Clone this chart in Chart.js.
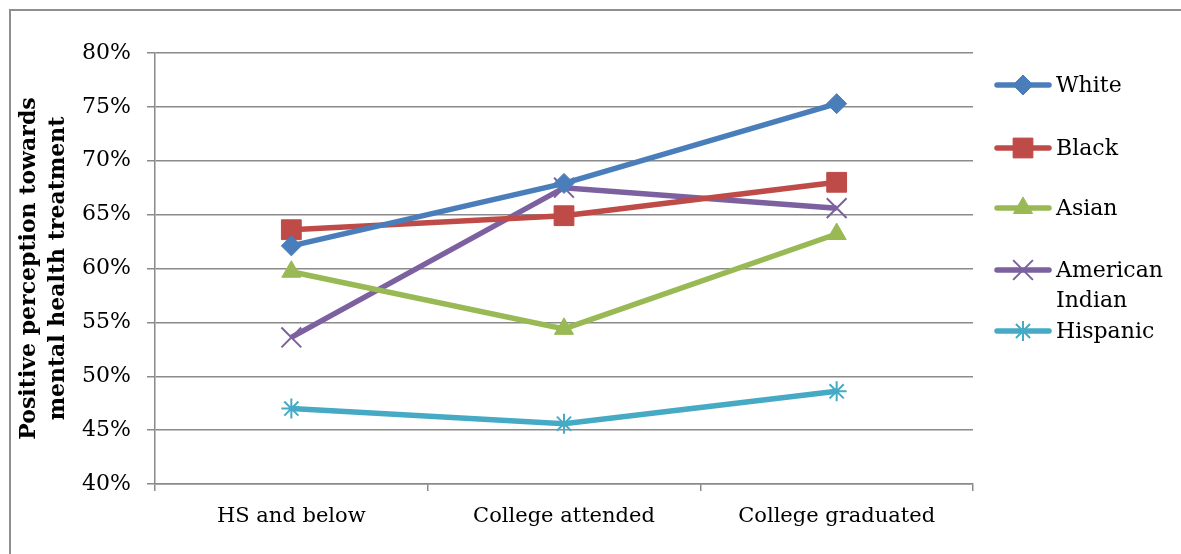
<!DOCTYPE html>
<html>
<head>
<meta charset="utf-8">
<script src="https://cdn.jsdelivr.net/npm/chart.js@4.4.1/dist/chart.umd.min.js"></script>
<style>
  html, body { margin: 0; padding: 0; background: #fff; }
  #wrap { position: relative; width: 1181px; height: 554px; overflow: hidden; }
  #frame { position: absolute; left: 9px; top: 9px; width: 1400px; height: 800px; border: 2px solid #8f8f8f; }
  canvas { position: absolute; left: 0; top: 0; }
</style>
</head>
<body>
<div id="wrap">
  <div id="frame"></div>
  <canvas id="chart" width="1181" height="554"></canvas>
</div>
<script>
/* ---------- Data ---------- */
const categories = ["HS and below", "College attended", "College graduated"];
const seriesNames = ["White", "Black", "Asian", "American Indian", "Hispanic"];
const whiteVals    = [62.1, 67.9, 75.3];
const blackVals    = [63.6, 64.9, 68.0];
const asianVals    = [59.7, 54.4, 63.2];
const amIndianVals = [53.6, 67.5, 65.6];
const hispanicVals = [47.0, 45.6, 48.6];
const yMin = 40, yMax = 80, yStep = 5;

/* ---------- Styles ---------- */
const FONT = "'DejaVu Serif', serif";
const lineColors   = ["#4A7EBB", "#BE4B48", "#98B954", "#7D60A0", "#46AAC5"];
const markerStyles = ["rectRot", "rect", "triangle", "crossRot", "star"];
const markerRadius = [10, 14, 11, 14, 10];
const markerBorder = [1, 1, 1, 2, 2];

const seriesValues = [whiteVals, blackVals, asianVals, amIndianVals, hispanicVals];

const datasets = seriesNames.map((name, i) => ({
  label: name,
  data: seriesValues[i],
  borderColor: lineColors[i],
  backgroundColor: lineColors[i],
  borderWidth: 5.5,
  pointStyle: markerStyles[i],
  pointRadius: markerRadius[i],
  pointBorderWidth: markerBorder[i],
  pointBackgroundColor: lineColors[i],
  pointBorderColor: lineColors[i],
  tension: 0
}));

/* ---------- Legend (line + marker, like the office chart) ---------- */
const legendRows = [85, 148, 208, 270, 331];
const sideLegend = {
  id: "sideLegend",
  afterDraw(c) {
    const g = c.ctx;
    g.save();
    g.font = "22px " + FONT;
    g.textBaseline = "middle";
    g.textAlign = "left";
    seriesNames.forEach((name, i) => {
      const y = legendRows[i];
      g.strokeStyle = lineColors[i];
      g.lineWidth = 5.5;
      g.lineCap = "round";
      g.beginPath();
      g.moveTo(997, y);
      g.lineTo(1049, y);
      g.stroke();
      g.fillStyle = lineColors[i];
      g.lineWidth = markerBorder[i];
      g.lineCap = "butt";
      Chart.helpers.drawPoint(g, {
        pointStyle: markerStyles[i],
        radius: markerRadius[i],
        rotation: 0,
        borderWidth: markerBorder[i]
      }, 1023, y);
      g.fillStyle = "#000";
      const parts = name.split(" ");
      parts.forEach((p, k) => g.fillText(p, 1056, y + 1 + k * 30));
    });
    g.restore();
  }
};

/* ---------- Chart ---------- */
const ctx = document.getElementById("chart").getContext("2d");
new Chart(ctx, {
  type: "line",
  data: { labels: categories, datasets },
  options: {
    responsive: false,
    animation: false,
    layout: { padding: { top: 53, right: 208, bottom: 0, left: 0 } },
    plugins: { legend: { display: false }, tooltip: { enabled: false } },
    scales: {
      x: {
        offset: true,
        afterFit(s) { s.height = 70; },
        grid: { offset: true, drawOnChartArea: false, drawTicks: true, tickLength: 7, color: "#8a8a8a", lineWidth: 1.5 },
        border: { display: true, color: "#8a8a8a", width: 1.5 },
        ticks: { color: "#000", padding: 13, font: { family: FONT, size: 21 } }
      },
      y: {
        min: yMin,
        max: yMax,
        afterFit(s) { s.width = 155; },
        grid: { color: "#8a8a8a", lineWidth: 1.5, tickLength: 8 },
        border: { display: true, color: "#8a8a8a", width: 1.5 },
        ticks: {
          stepSize: yStep,
          color: "#000",
          padding: 16,
          font: { family: FONT, size: 22 },
          callback: v => v + "%"
        },
        title: {
          display: true,
          text: ["Positive perception towards", "mental health treatment"],
          color: "#000",
          font: { family: FONT, size: 22, weight: "bold", lineHeight: 1.3 },
          padding: { top: 15, bottom: 0 }
        }
      }
    }
  },
  plugins: [sideLegend]
});
</script>
</body>
</html>
